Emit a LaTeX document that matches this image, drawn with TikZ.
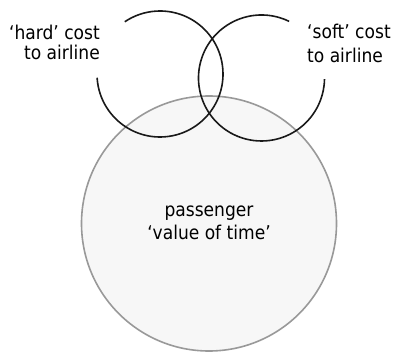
\documentclass[tikz,border=0pt]{standalone}
\usepackage{fontspec}
\setmainfont{DejaVu Sans Condensed}
\begin{document}
\begin{tikzpicture}[x=1pt,y=-1pt,
  lbl/.style={inner sep=0pt, font=\fontsize{19}{21}\selectfont},
  cost/.style={draw=black!90, line width=1.6pt},
  pax/.style={circle, draw=black!40, fill=black!3, line width=1.6pt, inner sep=0pt, minimum size=255pt}]
\useasboundingbox (0,0) rectangle (398,352);
\node[pax] (pax) at (209,223.5) {};
\coordinate (hard) at (160,74);
\coordinate (soft) at (261.5,78);
\draw[cost] (hard) ++(176.6:63) arc[start angle=176.6, end angle=-124, radius=63];
\draw[cost] (soft) ++(-64:63) arc[start angle=-64, end angle=-359, radius=63];
\node[lbl, anchor=base east] (hard1) at (100,39.3) {‘hard’ cost};
\node[lbl, anchor=base east] (hard2) at (100,60) {to airline};
\node[lbl, anchor=base west] (soft1) at (307,38.5) {‘soft’ cost};
\node[lbl, anchor=base west] (soft2) at (307,62.5) {to airline};
\node[lbl, anchor=base] (pax1) at (209,216.7) {passenger};
\node[lbl, anchor=base] (pax2) at (209,240) {‘value of time’};
\end{tikzpicture}
\end{document}
